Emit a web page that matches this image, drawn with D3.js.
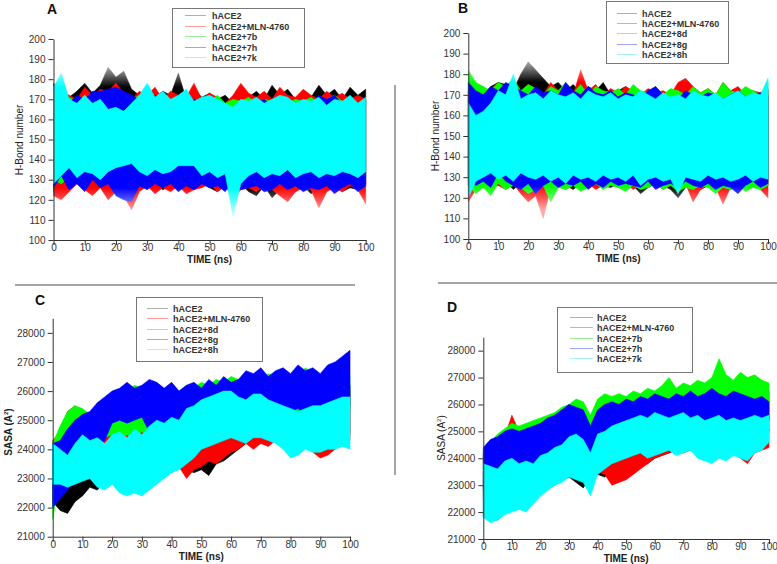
<!DOCTYPE html>
<html><head><meta charset="utf-8">
<script src="https://cdn.jsdelivr.net/npm/d3@7"></script>
<style>
body{margin:0;background:#fff}
text{font-family:"Liberation Sans",Arial,sans-serif}
</style></head>
<body><svg id="c" width="777" height="564"></svg>
<script>
// ---------- DATA ----------
const time = d3.range(0, 100.01, 2.5); // ns, 41 samples
const seriesColors = ["#000000", "#ff0000", "#00ff00", "#0000ff", "#00ffff"];
const legendLineColors = ["#b0b0b0", "#ff9a9a", "#9af09a", "#a0a0ff", "#a8f4f4"];
const namesA = ["hACE2", "hACE2+MLN-4760", "hACE2+7b", "hACE2+7h", "hACE2+7k"];
const namesB = ["hACE2", "hACE2+MLN-4760", "hACE2+8d", "hACE2+8g", "hACE2+8h"];
const hbTicks = [100,110,120,130,140,150,160,170,180,190,200];
const sasaTicks = [21000,22000,23000,24000,25000,26000,27000,28000];
const timeTicks = [0,10,20,30,40,50,60,70,80,90,100];

// Panel A: H-bond number (upper / lower envelope of each trace)
const A_hACE2_hi = [172,176,171,174,178,173,177,186,181,184,175,172,176,171,174,172,183,170,175,171,173,170,172,168,176,171,174,170,177,172,175,170,174,171,177,172,175,170,176,172,175];
const A_hACE2_lo = [124,128,125,130,127,126,129,125,128,124,127,129,126,128,125,127,126,129,125,128,126,124,127,125,128,124,122,127,121,125,126,124,127,123,126,125,127,124,126,125,128];
const A_MLN_hi = [170,174,172,170,176,172,175,174,178,173,170,174,172,176,170,174,172,171,178,170,173,171,168,172,178,173,171,174,170,176,172,171,175,172,170,174,171,173,170,172,170];
const A_MLN_lo = [122,120,124,128,125,122,126,120,124,122,115,124,127,123,126,124,127,123,125,126,128,124,127,121,125,126,124,127,125,122,119,124,126,125,116,124,126,124,127,125,118];
const A_7b_hi = [170,168,171,169,172,168,170,169,171,168,170,172,169,171,168,170,169,171,168,170,169,172,168,170,169,171,168,170,169,171,168,170,169,171,168,170,172,169,170,168,170];
const A_7b_lo = [130,128,131,129,130,131,128,130,129,131,130,128,131,129,130,128,131,129,130,131,128,130,129,131,130,128,130,129,131,128,130,131,129,130,128,131,130,129,131,130,129];
const A_7h_hi = [178,172,168,172,170,174,174,175,176,174,172,170,168,172,171,169,172,167,170,168,166,169,168,162,170,166,168,170,167,172,169,166,170,168,172,170,172,168,171,167,170];
const A_7h_lo = [126,132,125,128,124,130,126,128,122,120,119,127,125,128,126,128,124,127,125,128,126,127,124,130,125,126,127,124,125,128,125,127,124,126,125,127,123,126,128,124,127];
const A_7k_hi = [176,183,170,168,172,168,170,165,166,164,168,172,178,171,174,170,172,175,169,171,172,170,168,166,170,169,171,168,170,172,171,168,170,169,171,167,170,169,172,168,171];
const A_7k_lo = [128,132,136,131,134,133,130,134,136,137,138,134,132,135,133,134,137,137,137,132,134,131,133,112,128,132,134,131,133,132,135,131,133,134,131,133,132,134,133,131,134];

// Panel B: H-bond number
const B_hACE2_hi = [172,175,170,174,176,175,172,180,186,182,178,174,176,172,175,171,174,172,176,170,172,174,170,168,172,171,170,168,169,167,170,168,172,170,171,169,172,170,171,168,172];
const B_hACE2_lo = [126,128,125,127,126,128,124,127,125,126,128,125,127,126,124,127,125,128,126,125,127,124,126,122,125,127,126,124,120,125,127,124,126,125,127,124,126,125,127,124,126];
const B_MLN_hi = [170,174,171,173,176,172,174,171,175,173,170,176,172,174,170,182,172,175,170,173,171,174,172,170,173,171,172,170,176,178,174,171,173,170,176,172,174,170,172,171,173];
const B_MLN_lo = [118,124,127,125,126,124,127,122,118,121,110,125,127,124,126,125,127,124,126,128,125,127,124,126,125,127,124,126,125,127,118,124,126,125,117,125,127,124,126,124,120];
const B_8d_hi = [182,176,174,172,176,174,178,172,175,173,170,174,172,176,171,175,170,174,172,171,173,170,175,172,171,174,170,173,172,170,174,171,173,170,176,172,171,174,172,170,176];
const B_8d_lo = [126,122,125,121,127,124,126,125,122,124,126,118,125,124,126,123,125,127,124,126,125,123,126,124,125,127,124,126,123,125,124,126,125,122,125,124,126,123,125,124,126];
const B_8g_hi = [176,172,170,174,172,176,174,172,170,174,171,172,170,176,172,170,174,171,170,172,169,171,170,168,172,174,170,166,168,172,170,169,171,170,168,170,172,169,170,171,170];
const B_8g_lo = [130,126,128,125,132,128,126,124,127,122,126,128,125,127,126,128,124,127,125,128,126,127,126,125,128,124,126,127,125,128,126,125,127,124,126,125,122,126,128,125,127];
const B_8h_hi = [166,160,162,166,172,170,180,168,170,171,168,172,170,169,171,168,172,170,169,171,168,170,169,172,170,168,171,169,170,168,172,170,169,171,168,170,172,169,171,170,178];
const B_8h_lo = [120,128,130,132,129,131,128,132,130,129,131,128,130,127,131,129,130,128,131,129,130,128,131,126,129,130,128,129,122,130,129,128,131,129,130,128,129,131,128,130,129];

// Panel C: SASA
const C_hACE2_hi = [23500,23200,23400,23700,23800,23600,23800,24000,24300,24500,24600,24800,24700,24900,24600,24800,24700,24900,25000,24600,24500,24700,24800,24900,25000,25300,25600,26000,26200,26300,26500,26400,26200,26300,26500,26200,26400,26100,26300,26000,26200];
const C_hACE2_lo = [22200,21900,21800,22200,22400,22700,22600,22900,23000,22800,23100,23000,23200,23100,23000,23300,23200,23400,23300,23200,23300,23100,23500,23600,23800,24000,24200,24300,24200,24400,24300,24500,24400,24300,24500,24400,24600,24300,24500,24400,24500];
const C_MLN_hi = [24300,24600,25300,25500,25000,24800,24900,24700,25000,24800,24900,24700,24800,24600,24700,24900,24600,24700,24500,24600,24700,24800,24700,24900,24800,25000,25200,24900,25100,24800,25000,24900,25100,24900,25000,24800,24900,24700,24900,25100,26000];
const C_MLN_lo = [23400,23800,24000,24200,24000,23800,23900,23600,23700,23900,23800,23700,23900,23600,23800,23500,23700,23400,23000,23300,23400,23600,23500,23700,23900,24000,24200,24000,24200,24100,24300,24100,24200,24000,24200,23900,23700,23800,24000,24200,24300];
const C_8d_hi = [24200,24800,25300,25500,25400,25200,25500,25600,25800,25900,26000,26200,26100,26300,26000,26100,26200,26000,26200,26100,26300,26200,26400,26300,26500,26400,26600,26500,26400,26600,26500,26700,26600,26500,26800,26600,26500,26700,26400,26600,26500];
const C_8d_lo = [21600,23200,24000,24300,24200,24100,24300,24400,24500,24300,24500,24400,24600,24500,24400,24600,24500,24700,24600,24800,24700,24900,24800,24900,25000,24800,25000,25100,24900,25000,25100,24900,25000,24900,25100,25000,25200,25100,25000,25200,25300];
const C_8g_hi = [24200,24300,24700,25000,25200,25300,25600,25800,26000,26100,26300,26100,26200,26400,26300,26100,26300,26000,26200,26300,26100,26400,26200,26500,26300,26400,26700,26600,26800,26500,26700,26800,26600,26900,26700,26800,26600,26900,27000,27200,27400];
const C_8g_lo = [22000,22300,22600,23000,23600,23900,24100,24300,24900,25000,24900,25000,25100,24600,24800,24900,24800,25000,25100,25000,25200,25100,25300,25200,25400,25300,25500,25400,25300,25500,25400,25200,25300,25400,25200,25300,25100,25300,25400,25600,25500];
const C_8h_hi = [24200,24000,23800,24200,24500,24300,24400,24200,24500,24600,24400,24700,24500,24800,25000,24900,25100,25000,25400,25500,25700,25800,25900,26000,26000,25800,25700,25900,25900,25700,25600,25500,25400,25300,25400,25500,25500,25600,25700,25800,25800];
const C_8h_lo = [22800,22800,22700,22800,22900,23000,22700,22600,22800,22500,22400,22500,22400,22600,22800,23000,23200,23300,23500,23700,24000,24100,24200,24300,24400,24300,24200,24400,24400,24300,24200,24000,23700,23800,24000,23900,23900,24000,24000,24100,24000];

// Panel D: SASA
const D_hACE2_hi = [23500,23200,23300,23000,23300,23500,23400,23800,24000,24200,24300,24400,24500,24600,24000,24400,24500,24600,24300,24400,24300,24500,24600,24800,25000,25100,25200,25300,25200,25400,25500,25800,26000,26200,26300,26500,26400,26600,26800,26700,26500];
const D_hACE2_lo = [21800,21900,21700,22000,22100,22300,22400,22600,22800,22900,23000,23200,23300,23100,22900,23300,23400,23300,23500,23600,23400,23600,23700,23800,24000,24100,24200,24300,24200,24400,24300,24500,24600,24800,25000,24900,25100,25200,25300,25200,25400];
const D_MLN_hi = [24200,24500,24300,24800,25600,25000,24500,24800,24600,24700,24500,24600,24700,24400,24600,24500,24600,24700,24300,24200,24400,24300,24600,24700,24900,24800,25000,24900,25100,25000,24900,25100,25000,25200,25000,24900,25100,24800,25000,24900,25100];
const D_MLN_lo = [22500,23000,23200,23500,23800,23600,23300,23200,23000,23100,23200,23300,23400,23300,23200,23300,23500,23400,23000,23100,23200,23400,23600,23800,24000,24100,24200,24300,24200,24300,24300,24400,24300,24400,24300,24200,24000,23800,24200,24300,24400];
const D_7b_hi = [24200,24600,24900,25100,25300,25200,25300,25400,25500,25600,25700,25900,26000,26200,26100,25600,26200,26400,26300,26400,26300,26500,26400,26600,26500,26700,27000,26600,26800,26700,26900,26800,27000,27700,27100,26900,27200,27000,27100,26900,26800];
const D_7b_lo = [23600,23800,24000,24100,24200,24300,24400,24500,24600,24700,24800,25000,25100,25000,24800,24600,25000,25200,25300,25200,25400,25300,25400,25500,25400,25500,25600,25500,25700,25600,25800,25700,25900,26000,25900,25800,25700,25800,25900,25800,25700];
const D_7h_hi = [24400,24700,24800,25000,25100,25000,25100,25200,25300,25500,25600,25800,26000,25900,25800,25200,25800,26000,26100,26000,26200,26100,26300,26200,26400,26300,26200,26400,26300,26500,26300,26400,26600,26400,26300,26500,26400,26300,26200,26300,26100];
const D_7h_lo = [22800,23000,23200,23400,23500,23600,23500,23700,23800,23900,24200,24400,24600,24400,24200,23700,24500,24700,24900,24800,25000,24900,25100,25000,25200,25100,25000,25200,25100,25300,25200,25000,25100,25200,25000,25100,25000,24900,25000,25100,25000];
const D_7k_hi = [23800,23700,23600,23900,24000,23800,23900,23800,24100,24200,24400,24500,24800,24900,24700,24200,24900,25000,25200,25300,25400,25500,25600,25500,25700,25600,25500,25600,25700,25500,25600,25400,25500,25600,25400,25500,25400,25500,25600,25500,25600];
const D_7k_lo = [21800,21600,21700,21900,22000,22100,22000,22300,22600,22800,23000,23100,23300,23200,23100,22600,23400,23600,23800,23900,24000,24100,24200,24000,24100,24200,24300,24100,24200,24300,24000,23900,23800,24000,23900,24100,24000,23900,24200,24300,24600];

// ---------- DRAW ----------
const svg = d3.select("#c");
const defs = svg.append("defs");
const FONT = '"Liberation Sans", Arial, sans-serif';
let maskId = 0;
const legendLayer = [];

function drawPanel(p) {
  const x = d3.scaleLinear().domain([0, 100]).range([p.x0, p.x1]);
  const y = d3.scaleLinear().domain(p.yDomain).range([p.yb, p.yt]);
  const g = svg.append("g");
  const dataG = g.append("g");

  if (p.fade) {
    // sparse outer spikes look lighter: fade the outer parts of the band
    const id = "fade" + (maskId++);
    const grad = defs.append("linearGradient").attr("id", id + "g")
      .attr("gradientUnits", "userSpaceOnUse")
      .attr("x1", 0).attr("x2", 0).attr("y1", y(p.fade[0])).attr("y2", y(p.fade[3]));
    const span = p.fade[0] - p.fade[3];
    [[p.fade[0], "#555"], [p.fade[1], "#fff"], [p.fade[2], "#fff"], [p.fade[3], "#555"]].forEach(([v, c]) => {
      grad.append("stop").attr("offset", (p.fade[0] - v) / span).attr("stop-color", c);
    });
    defs.append("mask").attr("id", id).attr("maskUnits", "userSpaceOnUse")
      .attr("x", 0).attr("y", 0).attr("width", 777).attr("height", 564)
      .append("rect").attr("x", 0).attr("y", 0).attr("width", 777).attr("height", 564)
      .attr("fill", `url(#${id}g)`);
    dataG.attr("mask", `url(#${id})`);
  }

  p.series.forEach((s, i) => {
    const area = d3.area()
      .x((d, j) => x(time[j]))
      .y0((d, j) => y(s.lo[j]))
      .y1((d, j) => y(s.hi[j]));
    dataG.append("path").attr("d", area(time))
      .attr("fill", seriesColors[i])
      .attr("stroke", seriesColors[i])
      .attr("stroke-width", 0.6);
  });

  // axes
  const yMinor = d3.range(p.yDomain[0], p.yDomain[1] + 1e-6, p.yMinorStep);
  const xMinor = d3.range(0, 100.001, 5);
  const ax = g.append("g").attr("transform", `translate(${p.x0},0)`);
  ax.call(d3.axisLeft(y).tickValues(yMinor).tickSize(3).tickFormat("").tickSizeOuter(0));
  ax.call(d3.axisLeft(y).tickValues(p.yTicks).tickSize(5).tickPadding(3).tickSizeOuter(0).tickFormat(d3.format("d")));
  const bx = g.append("g").attr("transform", `translate(0,${p.yb})`);
  bx.call(d3.axisBottom(x).tickValues(xMinor).tickSize(3).tickFormat("").tickSizeOuter(0));
  bx.call(d3.axisBottom(x).tickValues(timeTicks).tickSize(5).tickPadding(-1).tickSizeOuter(0));
  g.selectAll(".domain, .tick line").attr("stroke", "#333").attr("stroke-width", 1);
  g.selectAll(".tick text").attr("fill", "#333").attr("font-size", 10).attr("font-family", FONT);

  // axis titles
  g.append("text").attr("x", (p.x0 + p.x1) / 2).attr("y", p.yb + 23)
    .attr("text-anchor", "middle").attr("font-size", 10).attr("font-weight", "bold")
    .attr("fill", "#222").text("TIME (ns)");
  const yt = g.append("text")
    .attr("transform", `translate(${p.ylabX},${p.ylabY}) rotate(-90)`)
    .attr("text-anchor", "middle").attr("font-size", 10)
    .attr("font-weight", p.ylabBold ? "bold" : "normal").attr("fill", "#222");
  if (p.sasa) {
    yt.append("tspan").text("SASA (A");
    yt.append("tspan").attr("font-size", 6).attr("dy", -4).text("2");
    yt.append("tspan").attr("dy", 4).text(")");
  } else {
    yt.text("H-Bond number");
  }

  // panel letter
  g.append("text").attr("x", p.letX).attr("y", p.letY).attr("font-size", 14)
    .attr("font-weight", "bold").attr("fill", "#111").text(p.letter);

  legendLayer.push(p);
}

function drawLegend(p) {
  const L = p.legend;
  const g = svg.append("g");
  g.append("rect").attr("x", L.x + 0.5).attr("y", L.y + 0.5).attr("width", L.w).attr("height", L.h)
    .attr("fill", "#fff").attr("stroke", "#777").attr("stroke-width", 1);
  p.names.forEach((n, i) => {
    const ry = Math.round(L.row0 + i * L.dy) + 0.5;
    g.append("line").attr("x1", L.lx1).attr("x2", L.lx2).attr("y1", ry).attr("y2", ry)
      .attr("stroke", legendLineColors[i]).attr("stroke-width", 1);
    g.append("text").attr("x", L.tx).attr("y", ry + 3.5).attr("font-size", 9)
      .attr("font-weight", "bold").attr("fill", "#333").text(n);
  });
}

drawPanel({
  letter: "A", letX: 47, letY: 14, fade: [186, 176, 126, 114],
  x0: 53.5, x1: 365.7, yb: 240, yt: 39, yDomain: [100, 200], yTicks: hbTicks, yMinorStep: 5,
  ylabX: 23, ylabY: 140, names: namesA,
  series: [
    {hi: A_hACE2_hi, lo: A_hACE2_lo}, {hi: A_MLN_hi, lo: A_MLN_lo}, {hi: A_7b_hi, lo: A_7b_lo},
    {hi: A_7h_hi, lo: A_7h_lo}, {hi: A_7k_hi, lo: A_7k_lo}],
  legend: {x: 172, y: 8, w: 132, h: 59, lx1: 185, lx2: 206, tx: 212, row0: 15, dy: 10.5}
});
drawPanel({
  letter: "B", letX: 458, letY: 13, fade: [186, 176, 126, 114],
  x0: 468.3, x1: 768, yb: 239, yt: 33, yDomain: [100, 200], yTicks: hbTicks, yMinorStep: 5,
  ylabX: 439, ylabY: 136, names: namesB,
  series: [
    {hi: B_hACE2_hi, lo: B_hACE2_lo}, {hi: B_MLN_hi, lo: B_MLN_lo}, {hi: B_8d_hi, lo: B_8d_lo},
    {hi: B_8g_hi, lo: B_8g_lo}, {hi: B_8h_hi, lo: B_8h_lo}],
  legend: {x: 606, y: 1, w: 122, h: 62, lx1: 617, lx2: 637, tx: 642, row0: 13, dy: 10.2}
});
drawPanel({
  letter: "C", letX: 35, letY: 305, sasa: true, ylabBold: true,
  x0: 52.7, x1: 350, yb: 536.7, yt: 318.3, yDomain: [21000, 28500], yTicks: sasaTicks, yMinorStep: 500,
  ylabX: 12, ylabY: 432, names: namesB,
  series: [
    {hi: C_hACE2_hi, lo: C_hACE2_lo}, {hi: C_MLN_hi, lo: C_MLN_lo}, {hi: C_8d_hi, lo: C_8d_lo},
    {hi: C_8g_hi, lo: C_8g_lo}, {hi: C_8h_hi, lo: C_8h_lo}],
  legend: {x: 136, y: 297, w: 126, h: 64, lx1: 147, lx2: 168, tx: 173, row0: 308, dy: 10.3}
});
drawPanel({
  letter: "D", letX: 447, letY: 312, sasa: true,
  x0: 483.3, x1: 769, yb: 539, yt: 337.2, yDomain: [21000, 28500], yTicks: sasaTicks, yMinorStep: 500,
  ylabX: 445, ylabY: 438, names: namesA,
  series: [
    {hi: D_hACE2_hi, lo: D_hACE2_lo}, {hi: D_MLN_hi, lo: D_MLN_lo}, {hi: D_7b_hi, lo: D_7b_lo},
    {hi: D_7h_hi, lo: D_7h_lo}, {hi: D_7k_hi, lo: D_7k_lo}],
  legend: {x: 557, y: 307, w: 135, h: 65, lx1: 570, lx2: 593, tx: 597, row0: 317, dy: 10.3}
});
legendLayer.forEach(drawLegend);

// separators
svg.append("line").attr("x1", 15).attr("x2", 355).attr("y1", 285).attr("y2", 285)
  .attr("stroke", "#888").attr("stroke-width", 1.5);
svg.append("line").attr("x1", 438).attr("x2", 777).attr("y1", 283).attr("y2", 283)
  .attr("stroke", "#888").attr("stroke-width", 1.5);
svg.append("line").attr("x1", 395).attr("x2", 395).attr("y1", 85).attr("y2", 475)
  .attr("stroke", "#888").attr("stroke-width", 1.5);
</script></body></html>
